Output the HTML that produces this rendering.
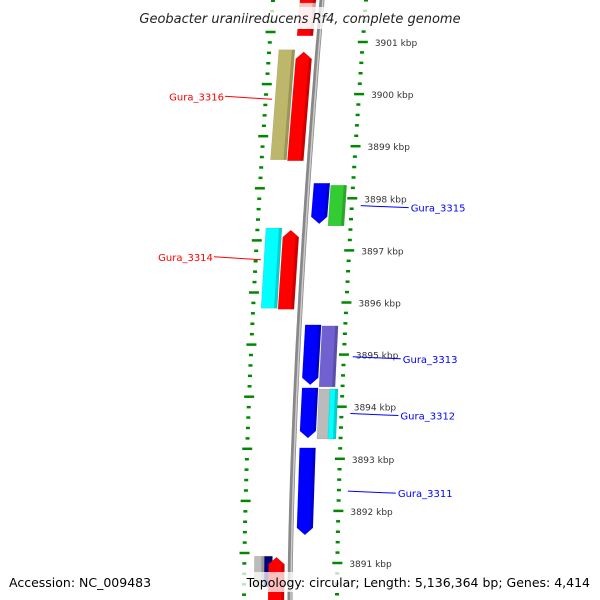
<!DOCTYPE html>
<html><head><meta charset="utf-8"><style>
html,body{margin:0;padding:0;background:#fff;width:600px;height:600px;overflow:hidden}
svg{display:block}
text{font-family:"DejaVu Sans","Liberation Sans",sans-serif}
</style></head><body>
<svg id="map" width="600" height="600" xmlns="http://www.w3.org/2000/svg"></svg>
<script>
const tickKbp=[3901,3900,3899,3898,3897,3896,3895,3894,3893,3892,3891];
const geneStart=[3901.12,3901.25,3901.75,3900.85,3900.81,3898.29,3898.25,3897.43,3897.39,3895.57,3895.55,3894.36,3894.34,3894.34,3893.21,3891.13,3891.13,3891.11];
const geneEnd=[3901.25,3901.75,3902.0,3898.74,3898.72,3897.51,3897.47,3895.89,3895.87,3894.42,3894.38,3893.40,3893.38,3893.38,3891.54,3890.54,3890.54,3890.2];
const geneSide=[-1,-1,-1,-2,-1,1,2,-2,-1,1,2,1,2,2.5,1,-2,-1.6,-1];
const geneStrand=[0,0,0,0,1,-1,0,0,1,-1,0,-1,0,0,-1,0,0,1];
const geneColor=["#f00","#ffc4c4","#f00","#bdb76b","#f00","#00f","#3c3","#0ff","#f00","#00f","#7060d0","#00f","#bbb","#0ff","#00f","#bbb","#000080","#f00"];
const labelNames=["Gura_3316","Gura_3314","Gura_3315","Gura_3313","Gura_3312","Gura_3311"];
const labelKbp=[3899.9,3896.82,3897.82,3894.92,3893.83,3892.34];
const labelSide=[-1,-1,1,1,1,1];
const labelColor=["#f00","#f00","#00f","#00f","#00f","#00f"];

const NS="http://www.w3.org/2000/svg";
const svg=document.getElementById('map');
function yOf(k){return 42+(3901-k)*52.1;}
function curve(y){const t=Math.max(0,(600-y)/600);return Math.pow(t,1.6);}
function bx(y){return 290+32*curve(y);}
function mk(tag,attrs,parent){const e=document.createElementNS(NS,tag);for(const k in attrs)e.setAttribute(k,attrs[k]);(parent||svg).appendChild(e);return e;}

// backbone
let d="";for(let y=-5;y<=605;y+=5){d+=(y===-5?"M":"L")+bx(y).toFixed(1)+","+y;}
const bb=mk('path',{d:d,stroke:'#888',"stroke-width":5,fill:'none'});


const bb2=mk('path',{d:d,stroke:'#ccc',"stroke-width":1.5,fill:'none',transform:'translate(1,0)'});



// scales
const minorGroup=mk('g',{});


for(let i=-2;i<=60;i++){
  const k=3901.4-i*0.2; const y=yOf(k);
  if(y<-5||y>605)continue;
  const major=Math.abs(k-Math.round(k))<0.01;
  const rx=336+29*curve(y), lx=244+29*curve(y-10);
  const yl=y-10;
  const w=major?10:4;
  mk('line',{x1:rx-w/2+1,x2:rx+w/2+1,y1:y,y2:y,stroke:'#080',"stroke-width":2.5},minorGroup);
  mk('line',{x1:lx-w/2,x2:lx+w/2,y1:yl,y2:yl,stroke:'#080',"stroke-width":2.5},minorGroup);
}
tickKbp.forEach(k=>{
  const y=yOf(k);const t=mk('text',{x:336+29*curve(y)+13,y:y+4,"font-size":9,fill:'#333'});
  t.textContent=k+" kbp";
  
  
});

// genes
geneStart.forEach((s,i)=>{
  const y1=yOf(s), y2=yOf(geneEnd[i]);
  const side=geneSide[i]; const off=Math.abs(side)>=2?31*Math.sign(side)+(Math.abs(side)-2)*14*Math.sign(side):(Math.abs(side)===1.6?-22:14*side);
  let w=(Math.abs(side)===1.6||side===2.5)?8:16;
  if(side===-2&&i===15)w=10;
  const cx=y=>bx(y)+off;
  const h=7;let pts;
  const a=cx(y1),b=cx(y2);
  if(geneStrand[i]===1){
    pts=[[a-w/2,y1+h],[a,y1],[a+w/2,y1+h],[b+w/2,y2],[b-w/2,y2]];
  }else if(geneStrand[i]===-1){
    pts=[[a-w/2,y1],[a+w/2,y1],[b+w/2,y2-h],[b,y2],[b-w/2,y2-h]];
  }else{
    pts=[[a-w/2,y1],[a+w/2,y1],[b+w/2,y2],[b-w/2,y2]];
  }
  const p=mk('polygon',{points:pts.map(q=>q[0].toFixed(1)+","+q[1].toFixed(1)).join(" "),fill:geneColor[i],stroke:'rgba(0,0,0,0.15)',"stroke-width":0.5});
  
  
  // shading strip
  const sh=mk('polygon',{points:[[a+w/2-3,y1+ (geneStrand[i]===1?h:0)],[a+w/2,y1+(geneStrand[i]===1?h:0)],[b+w/2,y2-(geneStrand[i]===-1?h:0)],[b+w/2-3,y2-(geneStrand[i]===-1?h:0)]].map(q=>q.join(",")).join(" "),fill:'rgba(0,0,0,0.18)'});
  
  
});

// labels
labelNames.forEach((n,i)=>{
  const y=yOf(labelKbp[i]);const c=labelColor[i];
  let g=mk('g',{});
  
  
  if(labelSide[i]<0){
    const x2=bx(y)-42;
    mk('line',{x1:x2-47,y1:y-3,x2:x2,y2:y,stroke:c,"stroke-width":1},g);
    const t=mk('text',{x:x2-48,y:y+1,"text-anchor":'end',"font-size":10,fill:c},g);t.textContent=n;
  }else{
    const x1=336+29*curve(y)+10;
    mk('line',{x1:x1,y1:y-2,x2:x1+48,y2:y,stroke:c,"stroke-width":1},g);
    const t=mk('text',{x:x1+50,y:y+4,"font-size":10,fill:c},g);t.textContent=n;
  }
});

// title & footer
const tb=mk('rect',{x:128,y:7,width:344,height:22,fill:'rgba(255,255,255,0.75)'});


const tt=mk('text',{x:300,y:23,"text-anchor":'middle',"font-size":13,"font-style":'italic',fill:'#222'});
tt.textContent="Geobacter uraniireducens Rf4, complete genome";


const fb=mk('rect',{x:0,y:572,width:600,height:20,fill:'rgba(255,255,255,0.75)'});


const f1=mk('text',{x:9,y:587,"font-size":12.5,fill:'#000'});
f1.textContent="Accession: NC_009483";


const f2=mk('text',{x:590,y:587,"text-anchor":'end',"font-size":12.5,fill:'#000'});
f2.textContent="Topology: circular; Length: 5,136,364 bp; Genes: 4,414";


</script>
</body></html>
